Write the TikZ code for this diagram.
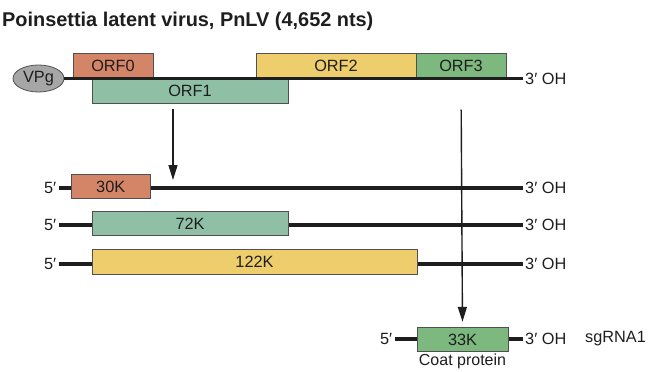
\documentclass[tikz,border=0pt]{standalone}
\usepackage{fontspec}
\setmainfont{Liberation Sans}
\usepackage{tikz}
\usetikzlibrary{positioning,arrows.meta,calc,shapes.geometric}
\definecolor{ink}{RGB}{30,30,30}
\definecolor{boxline}{RGB}{80,80,80}
\definecolor{orfred}{RGB}{212,133,103}
\definecolor{orfteal}{RGB}{143,192,166}
\definecolor{orfyellow}{RGB}{237,205,108}
\definecolor{orfgreen}{RGB}{125,184,126}
\definecolor{vpggray}{RGB}{166,166,166}
\newcommand{\lblfont}{\fontsize{16.3}{19}\selectfont}
\tikzset{
  orfbox/.style={draw=boxline, rectangle, inner sep=0pt, minimum height=24.5pt,
    font=\lblfont, text=ink, line width=0.8pt},
  rna/.style={line width=3.2pt, draw=ink},
  endlbl/.style={font=\lblfont, text=ink, inner sep=2pt},
  flow/.style={-{Triangle[length=15pt,width=9pt]}, line width=1.4pt, draw=ink},
}
\begin{document}
\begin{tikzpicture}[x=1pt, y=-1pt]
\useasboundingbox (0,0) rectangle (672,372);
\node[anchor=base west, inner sep=0pt, font=\fontsize{19.9}{22}\selectfont\bfseries, text=ink]
  (title) at (2,27) {Poinsettia latent virus, PnLV (4,652 nts)};
\node[ellipse, draw=boxline, fill=vpggray, line width=0.8pt, minimum width=51pt,
  minimum height=27pt, inner sep=0pt, font=\lblfont, text=ink] (vpg) at (38.5,78.5) {VPg};
\node[endlbl, anchor=west] (g3) at (523,79) {3′ OH};
\node[orfbox, fill=orfred, minimum width=80pt] (orf0) at (113,66) {ORF0};
\node[orfbox, fill=orfteal, minimum width=196pt, minimum height=25pt] (orf1) at (190,90.5) {ORF1};
\node[orfbox, fill=orfyellow, minimum width=160pt] (orf2) at (336,66) {ORF2};
\node[orfbox, fill=orfgreen, minimum width=90pt] (orf3) at (461,66) {ORF3};
\draw[rna] (vpg.east) -- (vpg.east -| g3.west);
\coordinate (split1) at (173,103);
\node[endlbl, anchor=east] (p5a) at (58.5,188) {5′};
\node[endlbl, anchor=west] (p3a) at (523,188) {3′ OH};
\node[endlbl, anchor=east] (p5b) at (58.5,225) {5′};
\node[endlbl, anchor=west] (p3b) at (523,225) {3′ OH};
\node[endlbl, anchor=east] (p5c) at (58.5,264) {5′};
\node[endlbl, anchor=west] (p3c) at (523,264) {3′ OH};
\draw[rna] (p5a) -- (p3a);
\draw[rna] (p5b) -- (p3b);
\draw[rna] (p5c) -- (p3c);
\node[orfbox, fill=orfred, minimum width=78.5pt] (k30) at (110.75,186.5) {30K};
\node[orfbox, fill=orfteal, minimum width=196pt] (k72) at (190,223.5) {72K};
\node[orfbox, fill=orfyellow, minimum width=325pt] (k122) at (254.5,262) {122K};
\node[endlbl, anchor=east] (p5d) at (394.5,339) {5′};
\node[endlbl, anchor=west] (p3d) at (523,339) {3′ OH};
\node[endlbl, anchor=west] (sg) at (583,339) {sgRNA1};
\draw[rna] (p5d) -- (p3d);
\node[orfbox, fill=orfgreen, minimum width=91pt] (k33) at (462.5,339.5) {33K};
\node[endlbl, below=0pt of k33, font=\fontsize{16}{18}\selectfont] (coat) {Coat protein};
\draw[flow, shorten <=6pt, shorten >=8pt] (split1) -- (split1 |- p5a);
\draw[flow, shorten <=31pt, shorten >=5pt] (orf3.south) -- (k33.north);
\end{tikzpicture}
\end{document}
